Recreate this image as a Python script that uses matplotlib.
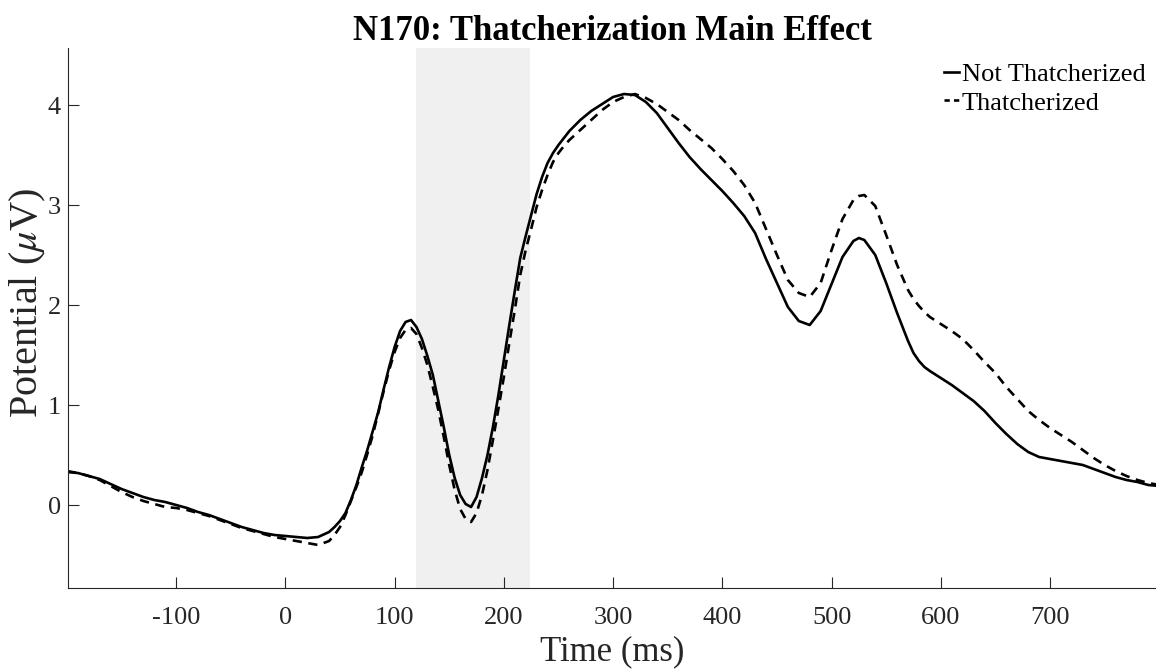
import matplotlib.pyplot as plt
from matplotlib.lines import Line2D

# ERP time axis (ms) and grand-average potentials (uV)
time_ms = [-200, -190, -180, -170, -160, -150, -140, -130, -120, -110,
           -100, -90, -80, -70, -60, -50, -40, -30, -20, -10,
           0, 10, 20, 30, 40, 45, 50, 55, 60, 65, 70, 75, 80, 85, 90, 95,
           100, 105, 110, 115, 120, 125, 130, 135, 140, 145, 150, 155,
           160, 165, 170, 175, 180, 185, 190, 195, 200, 205, 210, 215,
           220, 225, 230, 235, 240, 245, 250, 255, 260, 270, 280, 290,
           300, 310, 320, 330, 340, 350, 360, 370, 380, 390,
           400, 410, 420, 430, 440, 450, 460, 470, 480, 490,
           500, 510, 520, 525, 530, 540, 550, 560, 570, 575, 580, 585, 590,
           600, 610, 620, 630, 640, 650, 660, 670, 680, 690,
           700, 710, 720, 730, 740, 750, 760, 770, 780, 790, 800]

not_thatcherized = [0.33, 0.32, 0.29, 0.26, 0.21, 0.16, 0.12, 0.08, 0.05, 0.03,
                    0.00, -0.03, -0.07, -0.10, -0.14, -0.18, -0.22, -0.25, -0.28, -0.30,
                    -0.31, -0.32, -0.33, -0.32, -0.27, -0.22, -0.16, -0.08, 0.05, 0.20,
                    0.38, 0.55, 0.74, 0.93, 1.16, 1.38, 1.58, 1.74, 1.83, 1.85,
                    1.78, 1.66, 1.49, 1.30, 1.04, 0.78, 0.50, 0.27, 0.10, 0.01,
                    -0.02, 0.08, 0.27, 0.50, 0.78, 1.10, 1.45, 1.80, 2.14, 2.47,
                    2.69, 2.90, 3.11, 3.28, 3.42, 3.52, 3.60, 3.67, 3.74, 3.85, 3.94, 4.01,
                    4.08, 4.11, 4.10, 4.03, 3.92, 3.77, 3.62, 3.48, 3.36, 3.25,
                    3.14, 3.02, 2.89, 2.72, 2.46, 2.22, 1.98, 1.84, 1.80, 1.94,
                    2.21, 2.48, 2.64, 2.67, 2.65, 2.50, 2.22, 1.92, 1.64, 1.52, 1.44, 1.38, 1.34,
                    1.27, 1.20, 1.12, 1.04, 0.94, 0.82, 0.71, 0.61, 0.53, 0.48,
                    0.46, 0.44, 0.42, 0.40, 0.36, 0.32, 0.28, 0.25, 0.23, 0.20, 0.19]

thatcherized = [0.34, 0.32, 0.29, 0.25, 0.19, 0.13, 0.08, 0.04, 0.01, -0.02,
                -0.03, -0.05, -0.08, -0.11, -0.15, -0.19, -0.23, -0.26, -0.29, -0.32,
                -0.34, -0.36, -0.38, -0.40, -0.36, -0.30, -0.22, -0.10, 0.04, 0.18,
                0.33, 0.51, 0.70, 0.92, 1.14, 1.35, 1.53, 1.67, 1.75, 1.77,
                1.71, 1.57, 1.40, 1.18, 0.95, 0.68, 0.40, 0.15, -0.04, -0.14,
                -0.17, -0.08, 0.10, 0.35, 0.65, 0.96, 1.28, 1.62, 1.95, 2.30,
                2.55, 2.76, 2.98, 3.15, 3.30, 3.43, 3.52, 3.59, 3.65, 3.75, 3.85, 3.95,
                4.03, 4.08, 4.11, 4.07, 4.01, 3.93, 3.85, 3.75, 3.66, 3.57,
                3.46, 3.34, 3.20, 3.02, 2.76, 2.50, 2.25, 2.12, 2.08, 2.22,
                2.55, 2.86, 3.05, 3.09, 3.10, 2.99, 2.70, 2.40, 2.15, 2.06, 1.99, 1.93, 1.88,
                1.81, 1.74, 1.66, 1.55, 1.43, 1.32, 1.18, 1.06, 0.94, 0.85,
                0.77, 0.70, 0.63, 0.55, 0.47, 0.40, 0.34, 0.29, 0.25, 0.22, 0.20]

n170_window = (120, 224)
x_ticks = [-100, 0, 100, 200, 300, 400, 500, 600, 700]
y_ticks = [0, 1, 2, 3, 4]

plt.rcParams['font.family'] = ['Liberation Serif', 'DejaVu Serif']
plt.rcParams['mathtext.fontset'] = 'stix'
plt.rcParams['axes.unicode_minus'] = False

fig = plt.figure(figsize=(11.56, 6.70), dpi=100)
ax = fig.add_axes([68 / 1156, 1 - 588 / 670, 1 - 68 / 1156, 540 / 670])

ax.axvspan(*n170_window, color='#f0f0f0', lw=0, zorder=0)
ax.plot(time_ms, not_thatcherized, color='black', lw=1.9)
ax.plot(time_ms, thatcherized, color='black', lw=1.9, ls=(0, (3.5, 2.5)))

ax.set_xlim(-199, 797)
ax.set_ylim(-0.83, 4.57)
ax.set_xticks(x_ticks)
ax.set_yticks(y_ticks)
ax.tick_params(direction='in', length=8, width=0.8, colors='#262626',
               labelsize=19, pad=14)
ax.tick_params(axis='y', pad=5)
for side in ['top', 'right']:
    ax.spines[side].set_visible(False)
for side in ['left', 'bottom']:
    ax.spines[side].set_color('#262626')
    ax.spines[side].set_linewidth(0.8)

ax.set_xlabel('Time (ms)', fontsize=25, color='#262626', labelpad=4)
ax.set_ylabel(r'Potential ($\mu$V)', fontsize=29, color='#262626')
ax.yaxis.set_label_coords(-0.018, 0.528)
ax.set_title('N170: Thatcherization Main Effect', fontsize=25, fontweight='bold',
             pad=6)

# legend handles drawn short, like MATLAB's compact legend samples
handles = [Line2D([], [], color='black', lw=1.9),
           Line2D([], [], color='black', lw=1.9, ls=(0, (2.0, 1.6)))]
ax.legend(handles, ['Not Thatcherized', 'Thatcherized'], loc='upper right',
          frameon=False, fontsize=19, handlelength=0.58, handletextpad=0.1,
          labelspacing=0.18, borderaxespad=0.0, bbox_to_anchor=(1.0, 0.992))

fig.savefig('out.png', dpi=100)
